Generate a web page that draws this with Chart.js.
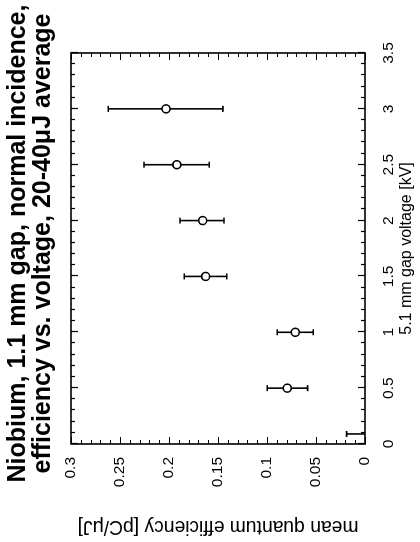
<!DOCTYPE html>
<html><head><meta charset="utf-8">
<script src="https://cdn.jsdelivr.net/npm/chart.js@4.4.1/dist/chart.umd.min.js"></script>
<style>
html,body{margin:0;padding:0;background:#fff;width:420px;height:542px;overflow:hidden}
#wrap{position:absolute;left:0;top:0;width:542px;height:420px;transform-origin:0 0;transform:translateY(542px) rotate(-90deg)}
canvas{display:block}
</style></head><body>
<div id="wrap"><canvas id="c" width="542" height="420"></canvas></div>
<script>
const titleLines = ['Niobium, 1.1 mm gap, normal incidence,', 'efficiency vs. voltage, 20-40\u03bcJ average'];
const xTitle = '5.1 mm gap voltage [kV]';
const yTitle = 'mean quantum efficiency [pC/\u03bcJ]';
const voltage    = [0.09, 0.5, 1, 1.5, 2, 2.5, 3];
const efficiency = [-0.006, 0.0793, 0.0711, 0.1626, 0.1656, 0.192, 0.203];
const errLowEnd  = [-0.02, 0.0585, 0.0528, 0.1411, 0.1439, 0.159, 0.145];
const errHighEnd = [0.0187, 0.0997, 0.0895, 0.1844, 0.1888, 0.2255, 0.262];
const voltageTicks = [0, 0.5, 1, 1.5, 2, 2.5, 3, 3.5];
const efficiencyTicks = [0, 0.05, 0.1, 0.15, 0.2, 0.25, 0.3];

Chart.defaults.font.family = '"Liberation Sans", Arial, Helvetica, sans-serif';
Chart.defaults.color = '#000';

const decor = {
  id: 'decor',
  beforeDatasetsDraw(chart) {
    const {ctx, chartArea: a, scales: {x, y}} = chart;
    ctx.save();
    ctx.beginPath(); ctx.rect(a.left, a.top, a.right - a.left, a.bottom - a.top); ctx.clip();
    ctx.strokeStyle = '#000'; ctx.lineWidth = 1.6;
    voltage.forEach((v, i) => {
      const px = x.getPixelForValue(v);
      const p1 = y.getPixelForValue(errLowEnd[i]);
      const p2 = y.getPixelForValue(errHighEnd[i]);
      ctx.beginPath();
      ctx.moveTo(px, p1); ctx.lineTo(px, p2);
      ctx.moveTo(px - 3, p1); ctx.lineTo(px + 3, p1);
      ctx.moveTo(px - 3, p2); ctx.lineTo(px + 3, p2);
      ctx.stroke();
    });
    ctx.restore();
  },
  afterDatasetsDraw(chart) {
    const {ctx, chartArea: a, scales: {x, y}} = chart;
    ctx.save();
    ctx.strokeStyle = '#000';
    ctx.lineWidth = 1.2;
    ctx.beginPath();
    for (let i = 0; i <= 35; i++) {
      const px = Math.round(x.getPixelForValue(i / 10)) + 0.5;
      const len = i % 5 === 0 ? 7 : 4;
      ctx.moveTo(px, a.bottom); ctx.lineTo(px, a.bottom - len);
      ctx.moveTo(px, a.top); ctx.lineTo(px, a.top + len);
    }
    for (let i = 0; i <= 30; i++) {
      const py = Math.round(y.getPixelForValue(i / 100)) + 0.5;
      const len = i % 5 === 0 ? 7 : 4;
      ctx.moveTo(a.left, py); ctx.lineTo(a.left + len, py);
      ctx.moveTo(a.right, py); ctx.lineTo(a.right - len, py);
    }
    ctx.stroke();
    ctx.lineWidth = 1.6;
    ctx.strokeRect(a.left, a.top, a.right - a.left, a.bottom - a.top);
    ctx.restore();
  }
};

new Chart(document.getElementById('c'), {
  type: 'scatter',
  data: {
    datasets: [{
      data: voltage.map((v, i) => ({x: v, y: efficiency[i]})),
      pointStyle: 'circle',
      pointRadius: 4,
      pointBorderWidth: 1.6,
      pointBorderColor: '#000',
      pointBackgroundColor: '#fff',
      clip: 0
    }]
  },
  options: {
    responsive: false,
    animation: false,
    events: [],
    layout: {padding: {left: 55, right: 0, top: 0, bottom: 0}},
    plugins: {
      legend: {display: false},
      tooltip: {enabled: false},
      title: {
        display: true, text: titleLines, color: '#000',
        font: {size: 25, weight: 'bold', lineHeight: 1.0},
        padding: {top: 5.5, bottom: 15.5}
      }
    },
    scales: {
      x: {
        type: 'linear', position: 'bottom', min: 0, max: 3.5,
        afterBuildTicks: s => { s.ticks = voltageTicks.map(v => ({value: v})); },
        afterFit: s => { s.height = 55; },
        grid: {display: false, drawTicks: false},
        border: {display: false},
        ticks: {maxRotation: 0, minRotation: 0, autoSkip: false, padding: 14, font: {size: 15.5}, color: '#000',
          callback: v => String(Math.round(v * 10) / 10)},
        title: {display: true, text: xTitle, color: '#000', font: {size: 16}, padding: {top: 0, bottom: 3.4}}
      },
      y: {
        type: 'linear', position: 'left', min: 0, max: 0.3,
        afterBuildTicks: s => { s.ticks = efficiencyTicks.map(v => ({value: v})); },
        afterFit: s => { s.width = 43; },
        grid: {display: false, drawTicks: false},
        border: {display: false},
        ticks: {autoSkip: false, padding: 13, font: {size: 15.5}, color: '#000',
          callback: v => String(Math.round(v * 100) / 100)},
        title: {display: true, text: yTitle, color: '#000', font: {size: 19.3}, padding: {top: -51, bottom: 0}}
      },
      spacer: {
        type: 'linear', position: 'right', axis: 'y', display: true,
        afterFit: s => { s.width = 53; },
        grid: {display: false, drawTicks: false},
        border: {display: false},
        ticks: {display: false},
        title: {display: false}
      }
    }
  },
  plugins: [decor]
});
</script>
</body></html>
